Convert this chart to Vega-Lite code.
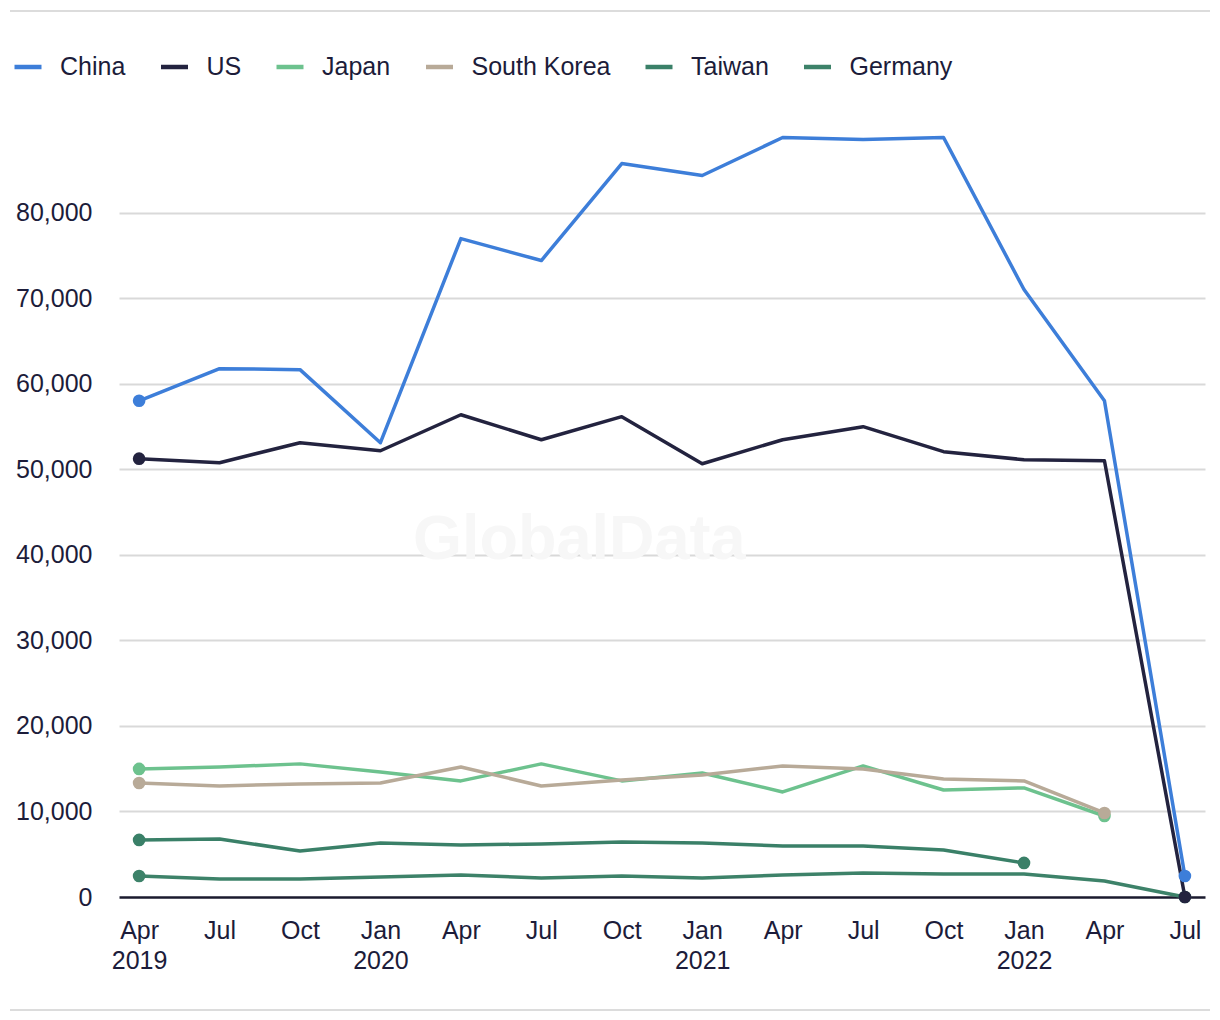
{
  "$schema": "https://vega.github.io/schema/vega-lite/v6.json",
  "width": 1086,
  "height": 770,
  "autosize": {"type": "none"},
  "padding": {"left": 119, "top": 127, "right": 15, "bottom": 123},
  "background": "white",
  "config": {
    "view": {"stroke": null},
    "font": "Liberation Sans",
    "axis": {"labelFont": "Liberation Sans", "labelFontSize": 25, "labelColor": "#1c1c3a", "domain": false, "ticks": false, "title": null},
    "legend": {"labelFont": "Liberation Sans", "labelFontSize": 25, "labelColor": "#1c1c3a"}
  },
  "datasets": {
    "series": [
      {"q": "2019-04", "country": "China", "value": 58000},
      {"q": "2019-07", "country": "China", "value": 61750},
      {"q": "2019-10", "country": "China", "value": 61640},
      {"q": "2020-01", "country": "China", "value": 53100},
      {"q": "2020-04", "country": "China", "value": 76960},
      {"q": "2020-07", "country": "China", "value": 74390},
      {"q": "2020-10", "country": "China", "value": 85730},
      {"q": "2021-01", "country": "China", "value": 84330},
      {"q": "2021-04", "country": "China", "value": 88770},
      {"q": "2021-07", "country": "China", "value": 88540},
      {"q": "2021-10", "country": "China", "value": 88770},
      {"q": "2022-01", "country": "China", "value": 71000},
      {"q": "2022-04", "country": "China", "value": 58000},
      {"q": "2022-07", "country": "China", "value": 2460},
      {"q": "2019-04", "country": "US", "value": 51230},
      {"q": "2019-07", "country": "US", "value": 50760},
      {"q": "2019-10", "country": "US", "value": 53100},
      {"q": "2020-01", "country": "US", "value": 52160},
      {"q": "2020-04", "country": "US", "value": 56370},
      {"q": "2020-07", "country": "US", "value": 53450},
      {"q": "2020-10", "country": "US", "value": 56140},
      {"q": "2021-01", "country": "US", "value": 50640},
      {"q": "2021-04", "country": "US", "value": 53450},
      {"q": "2021-07", "country": "US", "value": 54970},
      {"q": "2021-10", "country": "US", "value": 52050},
      {"q": "2022-01", "country": "US", "value": 51110},
      {"q": "2022-04", "country": "US", "value": 50990},
      {"q": "2022-07", "country": "US", "value": 0},
      {"q": "2019-04", "country": "Japan", "value": 14970},
      {"q": "2019-07", "country": "Japan", "value": 15200},
      {"q": "2019-10", "country": "Japan", "value": 15560},
      {"q": "2020-01", "country": "Japan", "value": 14620},
      {"q": "2020-04", "country": "Japan", "value": 13570},
      {"q": "2020-07", "country": "Japan", "value": 15560},
      {"q": "2020-10", "country": "Japan", "value": 13570},
      {"q": "2021-01", "country": "Japan", "value": 14500},
      {"q": "2021-04", "country": "Japan", "value": 12280},
      {"q": "2021-07", "country": "Japan", "value": 15320},
      {"q": "2021-10", "country": "Japan", "value": 12510},
      {"q": "2022-01", "country": "Japan", "value": 12750},
      {"q": "2022-04", "country": "Japan", "value": 9470},
      {"q": "2019-04", "country": "South Korea", "value": 13330},
      {"q": "2019-07", "country": "South Korea", "value": 12980},
      {"q": "2019-10", "country": "South Korea", "value": 13220},
      {"q": "2020-01", "country": "South Korea", "value": 13330},
      {"q": "2020-04", "country": "South Korea", "value": 15200},
      {"q": "2020-07", "country": "South Korea", "value": 12980},
      {"q": "2020-10", "country": "South Korea", "value": 13680},
      {"q": "2021-01", "country": "South Korea", "value": 14270},
      {"q": "2021-04", "country": "South Korea", "value": 15320},
      {"q": "2021-07", "country": "South Korea", "value": 14970},
      {"q": "2021-10", "country": "South Korea", "value": 13800},
      {"q": "2022-01", "country": "South Korea", "value": 13570},
      {"q": "2022-04", "country": "South Korea", "value": 9820},
      {"q": "2019-04", "country": "Taiwan", "value": 6670},
      {"q": "2019-07", "country": "Taiwan", "value": 6780},
      {"q": "2019-10", "country": "Taiwan", "value": 5380},
      {"q": "2020-01", "country": "Taiwan", "value": 6320},
      {"q": "2020-04", "country": "Taiwan", "value": 6080},
      {"q": "2020-07", "country": "Taiwan", "value": 6200},
      {"q": "2020-10", "country": "Taiwan", "value": 6430},
      {"q": "2021-01", "country": "Taiwan", "value": 6320},
      {"q": "2021-04", "country": "Taiwan", "value": 5960},
      {"q": "2021-07", "country": "Taiwan", "value": 5960},
      {"q": "2021-10", "country": "Taiwan", "value": 5500},
      {"q": "2022-01", "country": "Taiwan", "value": 3980},
      {"q": "2019-04", "country": "Germany", "value": 2460},
      {"q": "2019-07", "country": "Germany", "value": 2100},
      {"q": "2019-10", "country": "Germany", "value": 2100},
      {"q": "2020-01", "country": "Germany", "value": 2340},
      {"q": "2020-04", "country": "Germany", "value": 2570},
      {"q": "2020-07", "country": "Germany", "value": 2220},
      {"q": "2020-10", "country": "Germany", "value": 2460},
      {"q": "2021-01", "country": "Germany", "value": 2220},
      {"q": "2021-04", "country": "Germany", "value": 2570},
      {"q": "2021-07", "country": "Germany", "value": 2810},
      {"q": "2021-10", "country": "Germany", "value": 2690},
      {"q": "2022-01", "country": "Germany", "value": 2690},
      {"q": "2022-04", "country": "Germany", "value": 1870},
      {"q": "2022-07", "country": "Germany", "value": 0}
    ]
  },
  "resolve": {"scale": {"x": "independent"}, "axis": {"x": "independent"}},
  "layer": [
    {
      "data": {"values": [{}]},
      "layer": [
        {
          "mark": {"type": "rule", "color": "#dcdcdc", "strokeWidth": 2},
          "encoding": {
            "x": {"datum": -109, "type": "quantitative", "scale": {"domain": [0, 1086], "nice": false, "zero": false}, "axis": null},
            "x2": {"datum": 1091},
            "y": {"datum": 103560, "type": "quantitative", "scale": {"domain": [0, 90000], "nice": false},
              "axis": {
                "values": [0, 10000, 20000, 30000, 40000, 50000, 60000, 70000, 80000],
                "labelExpr": "format(datum.value, ',')", "labelPadding": 27, "grid": true,
                "gridColor": {"condition": {"test": "datum.value === 0", "value": "#1a1a2e"}, "value": "#d9d9d9"},
                "gridWidth": {"condition": {"test": "datum.value === 0", "value": 2.5}, "value": 2}
              }
            }
          }
        },
        {
          "mark": {"type": "rule", "color": "#dcdcdc", "strokeWidth": 2},
          "encoding": {
            "x": {"datum": -109, "type": "quantitative"},
            "x2": {"datum": 1091},
            "y": {"datum": -13200, "type": "quantitative"}
          }
        }
      ]
    },
    {
      "layer": [
        {
          "data": {"values": [{}]},
          "mark": {"type": "text", "text": "GlobalData", "font": "Liberation Sans", "fontWeight": "bold", "fontSize": 63, "color": "#f7f7f7", "align": "center", "baseline": "middle", "dx": 38},
          "encoding": {
            "x": {"datum": "2020-07", "type": "ordinal"},
            "y": {"datum": 41700, "type": "quantitative"}
          }
        },
        {
          "data": {"name": "series"},
          "mark": {"type": "line", "strokeWidth": 3.5, "strokeJoin": "round", "strokeCap": "round"},
          "encoding": {
            "x": {
              "field": "q", "type": "ordinal",
              "scale": {"type": "point", "padding": 0.25},
              "axis": {
                "orient": "bottom",
                "labelAngle": 0, "labelAlign": "center", "labelPadding": 21, "labelBaseline": "top", "labelLineHeight": 30, "grid": false,
                "labelExpr": "[substring(datum.value,5,7)=='01' ? 'Jan' : substring(datum.value,5,7)=='04' ? 'Apr' : substring(datum.value,5,7)=='07' ? 'Jul' : 'Oct', (datum.value=='2019-04' || substring(datum.value,5,7)=='01') ? substring(datum.value,0,4) : '']"
              }
            },
            "y": {"field": "value", "type": "quantitative"},
            "color": {
              "field": "country", "type": "nominal",
              "scale": {
                "domain": ["China", "US", "Japan", "South Korea", "Taiwan", "Germany"],
                "range": ["#3d7ed9", "#23233f", "#6dc28e", "#b8aa98", "#3a8068", "#3d8269"]
              },
              "legend": {
                "title": null, "orient": "none", "legendX": -107, "legendY": -76, "direction": "horizontal",
                "symbolType": "stroke", "symbolSize": 729, "symbolStrokeWidth": 4.5, "labelOffset": 16, "columnPadding": 25.5
              }
            }
          }
        },
        {
          "data": {"name": "series"},
          "transform": [
            {"window": [{"op": "row_number", "as": "rnA"}], "groupby": ["country"], "sort": [{"field": "q", "order": "ascending"}]},
            {"window": [{"op": "row_number", "as": "rnD"}], "groupby": ["country"], "sort": [{"field": "q", "order": "descending"}]},
            {"filter": "datum.rnA == 1 || datum.rnD == 1"}
          ],
          "mark": {"type": "point", "filled": true, "size": 160, "opacity": 1},
          "encoding": {
            "x": {"field": "q", "type": "ordinal"},
            "y": {"field": "value", "type": "quantitative"},
            "color": {"field": "country", "type": "nominal"},
            "order": {"field": "country", "sort": "ascending"}
          }
        }
      ]
    }
  ]
}
